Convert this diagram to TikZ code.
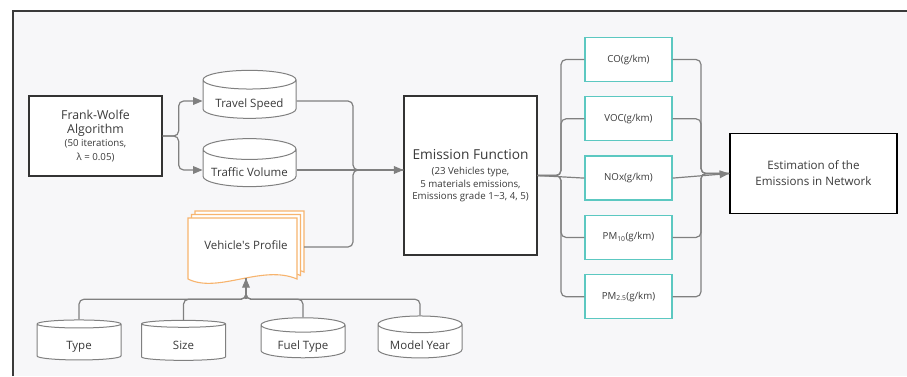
\documentclass[tikz,border=0pt]{standalone}
\usepackage{fontspec}
\setmainfont{Open Sans}
\usepackage{tikz}
\usetikzlibrary{arrows,shapes,shapes.geometric,positioning}

\definecolor{paper}{HTML}{F7F7F9}
\definecolor{ink}{HTML}{3A3A3A}
\definecolor{wire}{HTML}{808080}
\definecolor{boxteal}{HTML}{5CC8C1}
\definecolor{docorange}{HTML}{F7B46E}

\newcommand{\fs}[2]{\fontsize{#1}{#2}\selectfont}

\tikzset{
  conn/.style={draw=wire,line width=1.2pt,rounded corners=5pt},
  algbox/.style={draw=black!80,line width=1.3pt,fill=white,align=center,
    text=ink,minimum width=133pt,minimum height=80pt},
  outbox/.style={draw=black,line width=1.8pt,fill=white,align=center,
    text=ink,minimum width=167pt,minimum height=80pt},
  gasbox/.style={draw=boxteal,line width=1.3pt,fill=white,text=ink,
    minimum width=87pt,minimum height=44pt,font=\fs{9.7}{12}},
  db/.style={cylinder,shape border rotate=90,aspect=0.25,draw=wire,
    line width=1pt,fill=white,text=ink,font=\fs{11.5}{13},
    text height=13pt,text depth=0pt},
  bigdb/.style={db,minimum width=93pt,minimum height=48pt},
  smalldb/.style={db,minimum width=84pt,minimum height=40pt},
  page/.style={draw=docorange,line width=1.1pt,fill=white},
}

\begin{document}
\begin{tikzpicture}[>={triangle 45[scale=1.4]},x=1pt,y=-1pt]
\useasboundingbox (0,0) rectangle (907,376);
% frame
\fill[paper] (13,11) rectangle (907,376);
\draw[ink,line width=1.2pt] (13,376) -- (13,11) -- (907,11);

% inputs
\node[algbox,font=\fs{9.7}{13.5}] (fw) at (95.5,136)
  {\fs{12.3}{13.5}Frank-Wolfe\\\fs{12.3}{13.5}Algorithm\\(50 iterations,\\λ = 0.05)};
\node[bigdb] (speed) at (249.5,101) {Travel Speed};
\node[bigdb] (volume) at (249.5,170) {Traffic Volume};

% vehicle profile (stack of pages)
\node[minimum width=116pt,minimum height=72pt] (profile) at (246,247) {};
\begin{scope}[shift={(profile.center)}]
\foreach \d in {7,3.5,0}
  \draw[page] (-58+\d,32-\d) -- (-58+\d,-29-\d) -- (51+\d,-29-\d) -- (51+\d,32-\d)
    .. controls (16+\d,17-\d) and (-28+\d,47-\d) .. cycle;
\end{scope}
\node[text=ink,font=\fs{11.5}{13}] at ([yshift=2pt]profile.center) {Vehicle\textquotesingle s Profile};

\node[smalldb] (type) at (79,343) {Type};
\node[smalldb] (size) at (183.5,343) {Size};
\node[smalldb] (fuel) at (303,343) {Fuel Type};
\node[smalldb] (year) at (420,343) {Model Year};

% emission model
\node[algbox,minimum height=159pt,font=\fs{9.7}{12.5}] (emis) at (470.5,175.5)
  {\fs{13.7}{16}Emission Function\\[3pt](23 Vehicles type,\\5 materials emissions,\\Emissions grade 1\textasciitilde3, 4, 5)};

\node[gasbox] (co) at (628.5,59.5) {CO(g/km)};
\node[gasbox,below=14pt of co] (voc) {VOC(g/km)};
\node[gasbox,below=14pt of voc] (nox) {NOx(g/km)};
\node[gasbox,below=14pt of nox] (pm10) {PM\textsubscript{10}(g/km)};
\node[gasbox,below=14pt of pm10] (pm25) {PM\textsubscript{2.5}(g/km)};

\node[outbox,font=\fs{11.6}{16}] (est) at (813.5,173.5) {Estimation of the\\Emissions in Network};

% connectors
\draw[conn,->] (fw.east) -- ++(16,0) |- (speed.west);
\draw[conn,->] (fw.east) -- ++(16,0) |- (volume.west);

\coordinate (merge) at (353,170);
\draw[conn] (speed.east) -| (merge) -- (emis.west |- merge);
\draw[conn] (profile.east) -| (merge) -- (emis.west |- merge);
\draw[conn,->] (volume.east) -- (emis.west |- merge);

\coordinate (pin) at ([yshift=5pt]profile.south);
\coordinate (hub) at ([yshift=-16pt]profile.south);
\draw[conn] (type.north) |- (hub) -- (pin);
\draw[conn] (size.north) |- (hub) -- (pin);
\draw[conn] (fuel.north) |- (hub) -- (pin);
\draw[conn] (year.north) |- (hub) -- (pin);
\draw[conn,->] (hub) -- (pin);

\coordinate (split) at (561,175.5);
\coordinate (gather) at (701,173.5);
\draw[conn] (emis.east) -- (split) |- (co.west);
\draw[conn] (emis.east) -- (split) |- (voc.west);
\draw[conn] (emis.east) -- (nox.west);
\draw[conn] (emis.east) -- (split) |- (pm10.west);
\draw[conn] (emis.east) -- (split) |- (pm25.west);

\draw[conn] (co.east) -| (gather) -- (est.west);
\draw[conn] (voc.east) -| (gather) -- (est.west);
\draw[conn] (pm10.east) -| (gather) -- (est.west);
\draw[conn] (pm25.east) -| (gather) -- (est.west);
\draw[conn,->] (nox.east) -- (est.west);
\end{tikzpicture}
\end{document}
